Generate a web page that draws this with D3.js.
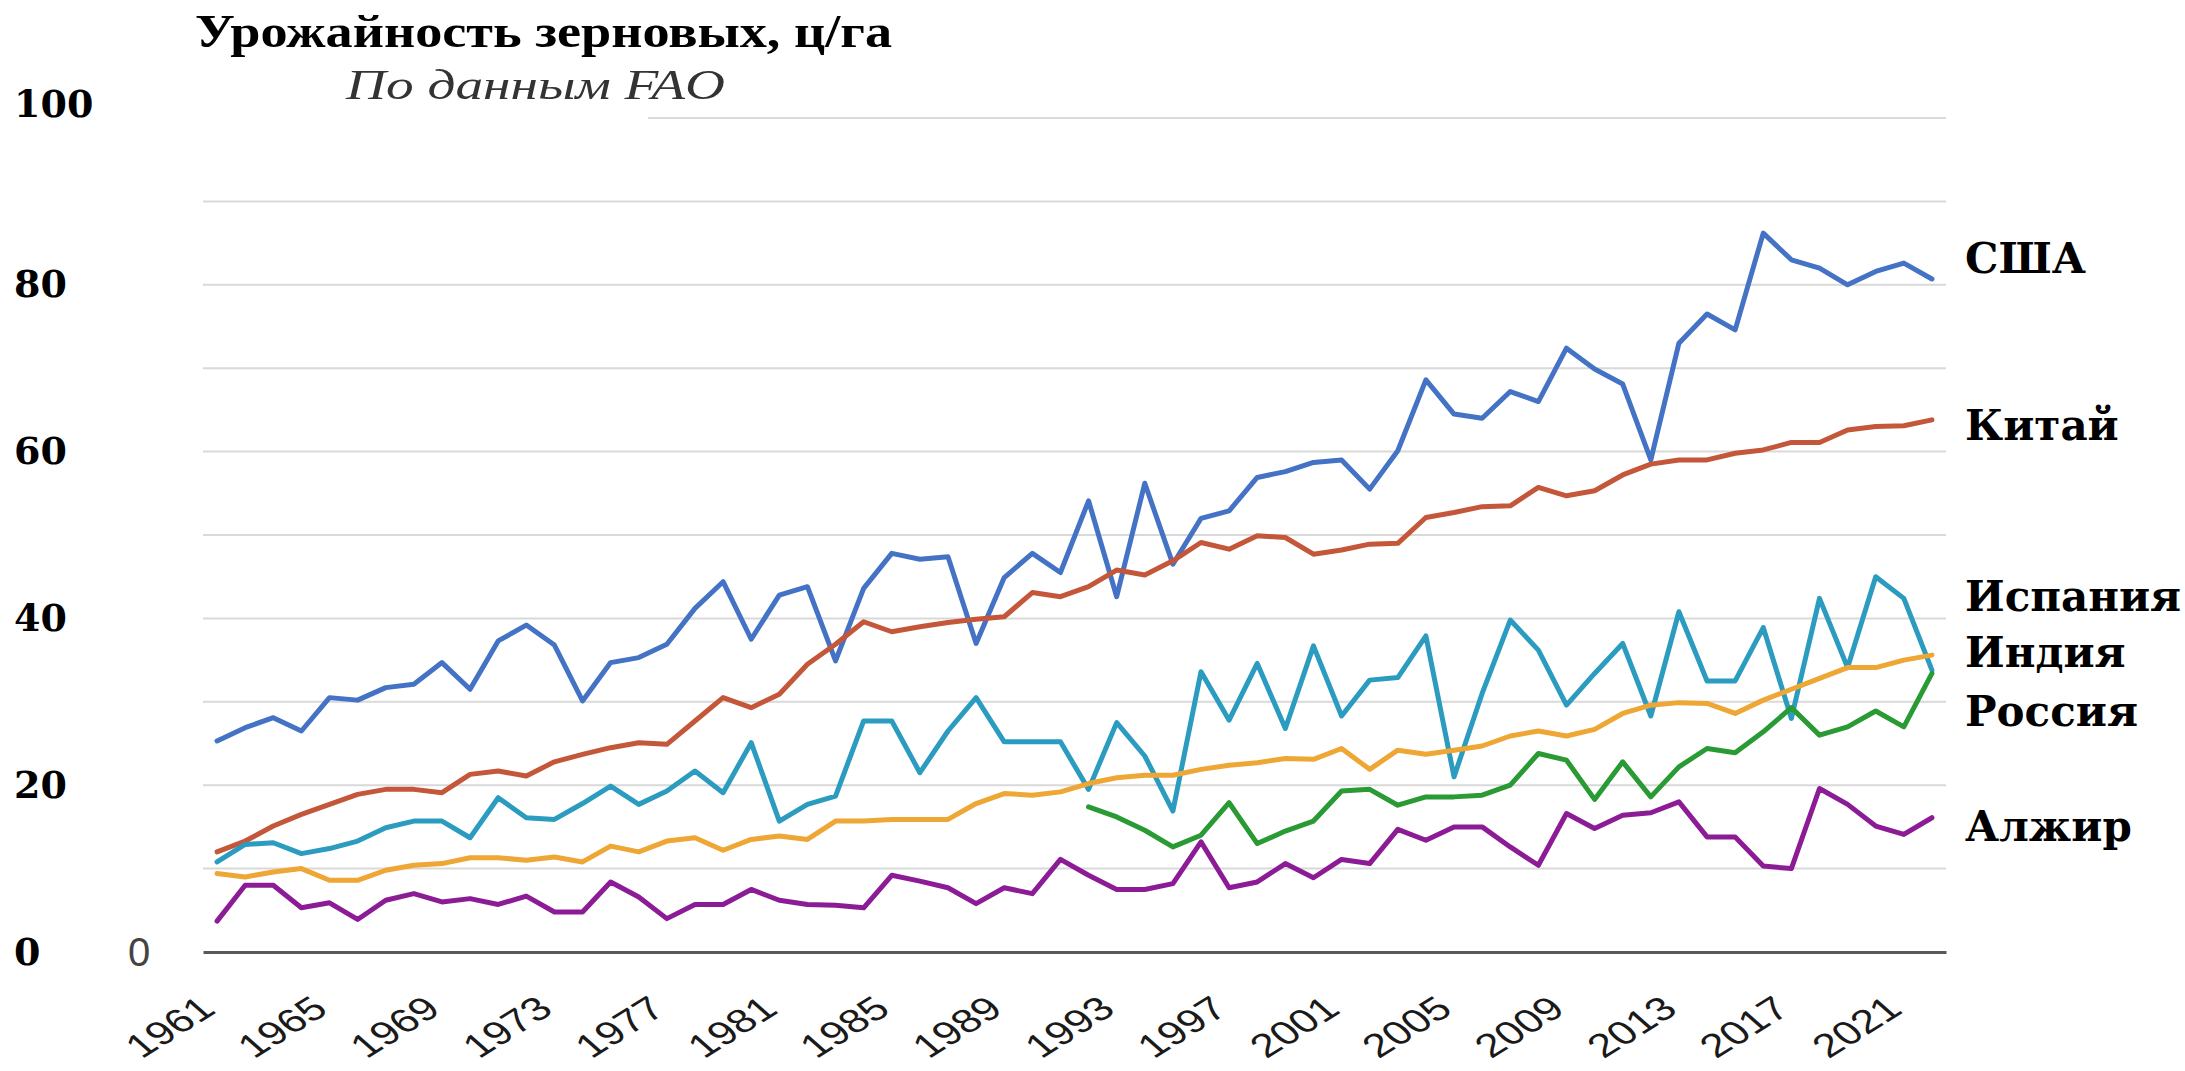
<!DOCTYPE html>
<html>
<head>
<meta charset="utf-8">
<script src="https://cdn.jsdelivr.net/npm/d3@7"></script>
<style>
  html, body { margin: 0; padding: 0; background: #fff; }
  svg { display: block; }
</style>
</head>
<body>
<div id="chart"></div>
<script>
const years = d3.range(1961, 2023);
const tickYears = [1961, 1965, 1969, 1973, 1977, 1981, 1985, 1989, 1993, 1997, 2001, 2005, 2009, 2013, 2017, 2021];
const yTicks = [0, 20, 40, 60, 80, 100];
const gridValues = [10, 20, 30, 40, 50, 60, 70, 80, 90, 100];

const usa = [25.3, 26.9, 28.1, 26.5, 30.5, 30.2, 31.7, 32.1, 34.7, 31.5,
  37.3, 39.2, 36.8, 30.1, 34.7, 35.3, 36.9, 41.2, 44.4, 37.5,
  42.8, 43.8, 34.9, 43.6, 47.8, 47.1, 47.4, 37.0, 44.9, 47.8,
  45.5, 54.1, 42.6, 56.2, 46.5, 52.0, 52.9, 56.9, 57.6, 58.7,
  59.0, 55.5, 60.1, 68.6, 64.5, 64.0, 67.2, 66.0, 72.4, 69.9,
  68.1, 59.0, 73.0, 76.5, 74.6, 86.2, 83.0, 82.0, 80.0, 81.6,
  82.6, 80.7];
const china = [12.0, 13.3, 15.1, 16.5, 17.7, 18.9, 19.5, 19.5, 19.1, 21.3,
  21.7, 21.1, 22.8, 23.7, 24.5, 25.1, 24.9, 27.7, 30.5, 29.3,
  30.9, 34.5, 36.9, 39.6, 38.4, 39.0, 39.5, 39.9, 40.2, 43.1,
  42.6, 43.8, 45.8, 45.2, 46.9, 49.1, 48.3, 49.9, 49.7, 47.7,
  48.2, 48.9, 49.0, 52.1, 52.7, 53.4, 53.5, 55.7, 54.7, 55.3,
  57.2, 58.5, 59.0, 59.0, 59.8, 60.2, 61.1, 61.1, 62.6, 63.0,
  63.1, 63.8];
const spain = [10.8, 12.9, 13.1, 11.8, 12.4, 13.3, 14.9, 15.7, 15.7, 13.7,
  18.5, 16.1, 15.9, 17.8, 19.9, 17.7, 19.3, 21.7, 19.1, 25.1,
  15.7, 17.7, 18.7, 27.7, 27.7, 21.5, 26.5, 30.5, 25.2, 25.2,
  25.2, 19.5, 27.5, 23.5, 16.9, 33.6, 27.8, 34.6, 26.8, 36.7,
  28.3, 32.6, 32.9, 37.9, 21.0, 31.0, 39.8, 36.2, 29.6, 33.4,
  37.0, 28.3, 40.8, 32.5, 32.5, 38.9, 28.0, 42.4, 34.1, 45.0,
  42.4, 33.8];
const india = [9.4, 9.0, 9.6, 10.0, 8.6, 8.6, 9.8, 10.4, 10.6, 11.3,
  11.3, 11.0, 11.4, 10.8, 12.7, 12.0, 13.3, 13.7, 12.2, 13.5,
  13.9, 13.5, 15.7, 15.7, 15.9, 15.9, 15.9, 17.8, 19.0, 18.8,
  19.2, 20.2, 20.9, 21.2, 21.2, 21.9, 22.4, 22.7, 23.2, 23.1,
  24.4, 21.9, 24.2, 23.7, 24.2, 24.7, 25.9, 26.5, 25.9, 26.7,
  28.6, 29.6, 29.9, 29.8, 28.6, 30.2, 31.5, 32.8, 34.1, 34.1,
  35.0, 35.6];
// Россия — данные с 1992 г.
const russiaYears = d3.range(1992, 2023);
const russia = [17.4, 16.2, 14.6, 12.6, 14.0, 17.9, 13.0, 14.5, 15.7,
  19.3, 19.5, 17.6, 18.6, 18.6, 18.8, 20.0, 23.8, 23.0, 18.3,
  22.8, 18.6, 22.2, 24.4, 23.9, 26.4, 29.3, 26.0, 27.0, 28.9,
  27.0, 33.4];
const algeria = [3.7, 8.0, 8.0, 5.3, 5.9, 3.9, 6.2, 7.0, 6.0, 6.4,
  5.7, 6.7, 4.8, 4.8, 8.4, 6.6, 4.0, 5.7, 5.7, 7.5,
  6.2, 5.7, 5.6, 5.3, 9.2, 8.5, 7.7, 5.8, 7.7, 7.0,
  11.1, 9.2, 7.5, 7.5, 8.2, 13.2, 7.7, 8.4, 10.6, 8.9,
  11.1, 10.6, 14.7, 13.4, 15.0, 15.0, 12.6, 10.4, 16.6, 14.8,
  16.4, 16.7, 18.0, 13.8, 13.8, 10.3, 10.0, 19.6, 17.7, 15.1,
  14.1, 16.1];

const seriesNames = ["США", "Китай", "Испания", "Индия", "Россия", "Алжир"];
const labelYs = [258, 425, 596, 652, 711, 826];

const width = 2185;
const height = 1071;

const svg = d3.select("#chart")
  .append("svg")
  .attr("width", width)
  .attr("height", height);

const x = d3.scalePoint()
  .domain(years)
  .range([203, 1946])
  .padding(0.5);

const y = d3.scaleLinear()
  .domain([0, 100])
  .range([952, 118]);

// gridlines
svg.append("g")
  .selectAll("line")
  .data(gridValues)
  .join("line")
  .attr("x1", (d) => (d === 100 ? 648 : 203))
  .attr("x2", 1946)
  .attr("y1", (d) => y(d))
  .attr("y2", (d) => y(d))
  .attr("stroke", "#d9d9d9")
  .attr("stroke-width", 2);

// x axis
const xAxis = d3.axisBottom(x).tickValues(tickYears).tickSize(0).tickSizeOuter(0);
const gx = svg.append("g")
  .attr("transform", `translate(0, ${y(0)})`)
  .call(xAxis);
gx.select(".domain").attr("stroke", "#595959").attr("stroke-width", 3);
gx.selectAll("text")
  .attr("y", 0)
  .attr("dy", 0)
  .attr("text-anchor", "end")
  .attr("transform", "translate(0, 60) scale(1.35, 1) rotate(-40)")
  .style("font-family", "Arial, 'Liberation Sans', sans-serif")
  .style("font-size", "33px")
  .style("fill", "#1a1a1a");

// y axis labels (left)
const yAxis = d3.axisLeft(y).tickValues(yTicks).tickSize(0);
const gy = svg.append("g")
  .call(yAxis);
gy.select(".domain").remove();
gy.selectAll("text")
  .attr("x", 14)
  .attr("dy", (d) => (d === 100 ? "-0.05em" : "0.32em"))
  .attr("text-anchor", "start")
  .style("font-family", "'DejaVu Serif', serif")
  .style("font-weight", "bold")
  .style("font-size", "38px")
  .style("fill", "#000");

// leftover gray zero of the original axis
svg.append("text")
  .attr("x", 139)
  .attr("y", y(0))
  .attr("dy", "0.36em")
  .attr("text-anchor", "middle")
  .style("font-family", "Arial, 'Liberation Sans', sans-serif")
  .style("font-size", "40px")
  .style("fill", "#444")
  .text("0");

// lines
const line = d3.line()
  .x((d) => x(d.year))
  .y((d) => y(d.value));

const toPoints = (yrs, vals) => yrs.map((yr, i) => ({ year: yr, value: vals[i] }));

const series = [
  { name: "США", color: "#4472c4", points: toPoints(years, usa) },
  { name: "Китай", color: "#c4573a", points: toPoints(years, china) },
  { name: "Испания", color: "#2b9cc0", points: toPoints(years, spain) },
  { name: "Индия", color: "#eea634", points: toPoints(years, india) },
  { name: "Россия", color: "#2a9a35", points: toPoints(russiaYears, russia) },
  { name: "Алжир", color: "#8c1c96", points: toPoints(years, algeria) }
];

svg.append("g")
  .selectAll("path")
  .data(series)
  .join("path")
  .attr("d", (d) => line(d.points))
  .attr("fill", "none")
  .attr("stroke", (d) => d.color)
  .attr("stroke-width", 5)
  .attr("stroke-linejoin", "round")
  .attr("stroke-linecap", "round");

// country labels
svg.append("g")
  .selectAll("text")
  .data(seriesNames)
  .join("text")
  .attr("x", 1965)
  .attr("y", (d, i) => labelYs[i])
  .attr("dy", "0.36em")
  .style("font-family", "'DejaVu Serif', serif")
  .style("font-weight", "bold")
  .style("font-size", "42px")
  .style("fill", "#000")
  .text((d) => d);

// title
svg.append("text")
  .attr("x", 195)
  .attr("y", 47)
  .attr("textLength", 697)
  .attr("lengthAdjust", "spacingAndGlyphs")
  .style("font-family", "'Liberation Serif', 'Times New Roman', serif")
  .style("font-weight", "bold")
  .style("font-size", "46px")
  .style("fill", "#000")
  .text("Урожайность зерновых, ц/га");

svg.append("text")
  .attr("x", 346)
  .attr("y", 99)
  .attr("textLength", 379)
  .attr("lengthAdjust", "spacingAndGlyphs")
  .style("font-family", "'Liberation Serif', 'Times New Roman', serif")
  .style("font-style", "italic")
  .style("font-size", "42px")
  .style("fill", "#333")
  .text("По данным FAO");
</script>
</body>
</html>
